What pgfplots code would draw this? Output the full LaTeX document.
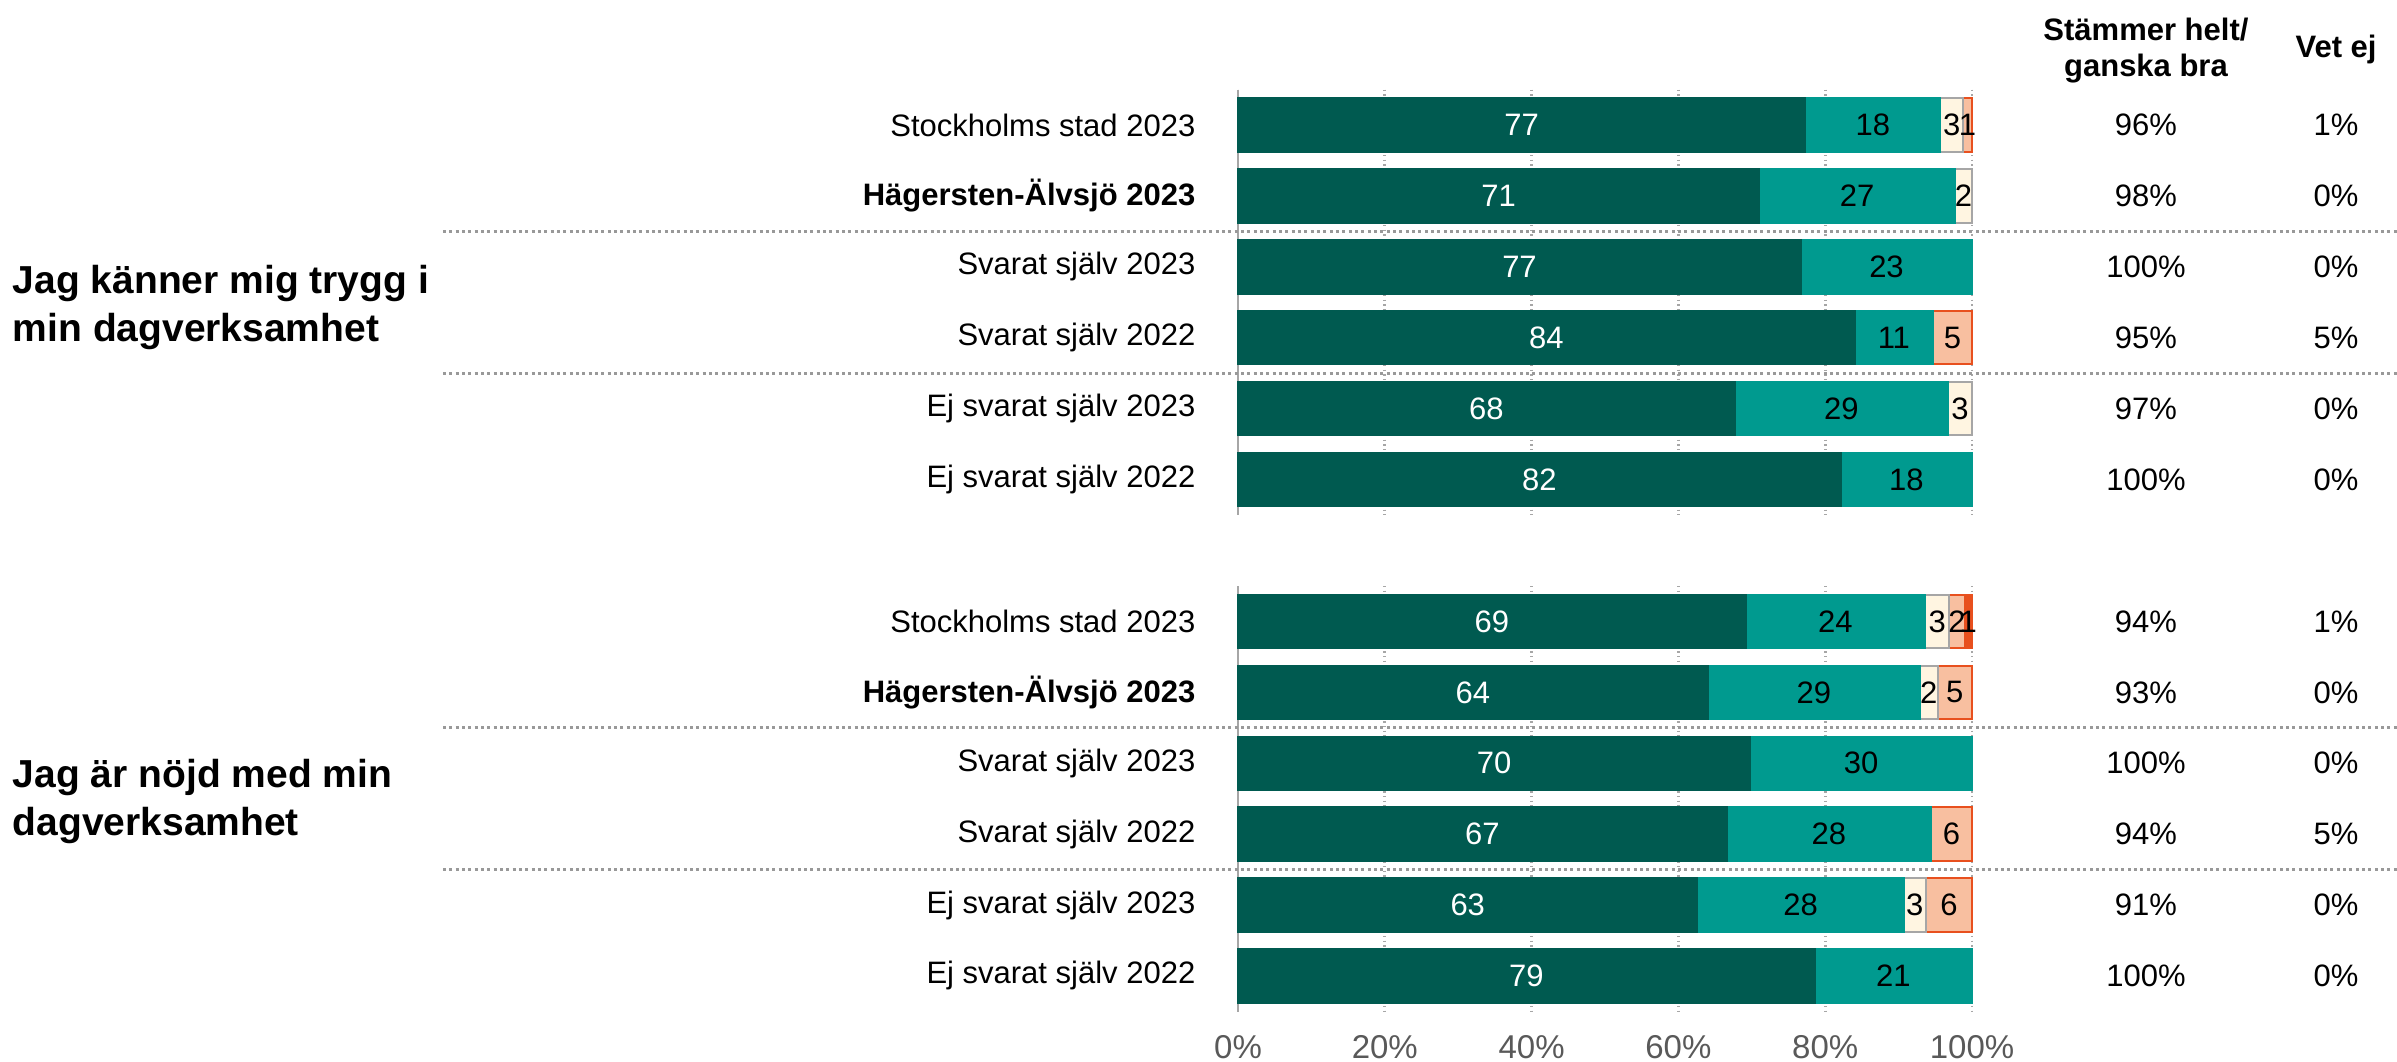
\documentclass[border=0pt]{standalone}
\usepackage{pgfplots}
\pgfplotsset{compat=1.18}
\usepackage{pgfplotstable}
\usepackage{fontspec}
\setmainfont{Liberation Sans}
\definecolor{dgreen}{HTML}{005A50}
\definecolor{teal2}{HTML}{009A8F}
\definecolor{cream}{HTML}{FFF5E1}
\definecolor{creamb}{HTML}{A6A6A6}
\definecolor{salmon}{HTML}{F8BFA0}
\definecolor{orng}{HTML}{E8501E}
\definecolor{tickgray}{HTML}{595959}
\newcommand\fs{\fontsize{9.3pt}{11pt}\selectfont}
% Jag känner mig trygg i min dagverksamhet
\pgfplotstableread{
y  a    b    c   d   e   la lb lc ld le s   v
0  77.3 18.4 3.1 1.2 0   77 18 3  1  0  96  1
1  71.0 26.7 2.3 0   0   71 27 2  0  0  98  0
2  76.7 23.3 0   0   0   77 23 0  0  0  100 0
3  84.0 10.7 0   5.3 0   84 11 0  5  0  95  5
4  67.7 29.0 3.3 0   0   68 29 3  0  0  97  0
5  82.1 17.9 0   0   0   82 18 0  0  0  100 0
}\dataA
% Jag är nöjd med min dagverksamhet
\pgfplotstableread{
y  a    b    c   d   e   la lb lc ld le s   v
7  69.2 24.4 3.3 2.1 1.0 69 24 3  2  1  94  1
8  64.0 28.9 2.4 4.7 0   64 29 2  5  0  93  0
9  69.8 30.2 0   0   0   70 30 0  0  0  100 0
10 66.6 27.8 0   5.6 0   67 28 0  6  0  94  5
11 62.6 28.1 3.0 6.3 0   63 28 3  6  0  91  0
12 78.6 21.4 0   0   0   79 21 0  0  0  100 0
}\dataB
\pgfplotsset{
  seg/.style 2 args={xbar, bar width=16pt, bar shift=0pt, fill=#1, draw=#2, line width=0.6pt},
  lbl/.style={draw=none, mark=none, point meta=explicit,
    nodes near coords={\pgfmathfloatifflags{\pgfplotspointmeta}{0}{}{\pgfmathprintnumber{\pgfplotspointmeta}}},
    every node near coord/.append style={anchor=center, font=\fs, inner sep=0pt, text=#1}},
  col/.style={draw=none, mark=none, point meta=explicit symbolic,
    nodes near coords={\pgfplotspointmeta\%},
    every node near coord/.append style={anchor=center, font=\fs, inner sep=0pt, text=black}},
  common/.style={
    anchor=south west,
    scale only axis, width=220.2pt, height=127.6pt,
    xmin=0, xmax=100, y dir=reverse,
    clip=false,
    axis lines*=left,
    x axis line style={draw=none},
    y axis line style={creamb, line width=0.7pt},
    major tick length=0pt,
    xtick={0,20,40,60,80,100},
    xticklabel style={font=\fontsize{9.9pt}{12pt}\selectfont, text=tickgray, anchor=north, inner sep=0pt, yshift=-7pt},
    yticklabel style={font=\fs, anchor=east, inner sep=0pt, xshift=-12.6pt},
    xmajorgrids, grid style={creamb, densely dotted, line width=0.8pt},
    /pgf/number format/assume math mode=true,
  }
}
\newcommand\bars[1]{%
\addplot[seg={orng}{orng}] table[x expr=\thisrow{a}+\thisrow{b}+\thisrow{c}+\thisrow{d}+\thisrow{e}, y=y]{#1};
\addplot[seg={salmon}{orng}] table[x expr=\thisrow{a}+\thisrow{b}+\thisrow{c}+\thisrow{d}, y=y]{#1};
\addplot[seg={cream}{creamb}] table[x expr=\thisrow{a}+\thisrow{b}+\thisrow{c}, y=y]{#1};
\addplot[seg={teal2}{teal2}] table[x expr=\thisrow{a}+\thisrow{b}, y=y]{#1};
\addplot[seg={dgreen}{dgreen}] table[x=a, y=y]{#1};
\addplot[lbl=white] table[x expr=\thisrow{a}/2, y=y, meta=la]{#1};
\addplot[lbl=black] table[x expr=\thisrow{a}+\thisrow{b}/2, y=y, meta=lb]{#1};
\addplot[lbl=black] table[x expr=\thisrow{a}+\thisrow{b}+\thisrow{c}/2, y=y, meta=lc]{#1};
\addplot[lbl=black] table[x expr=\thisrow{a}+\thisrow{b}+\thisrow{c}+\thisrow{d}/2, y=y, meta=ld]{#1};
\addplot[lbl=black] table[x expr=\thisrow{a}+\thisrow{b}+\thisrow{c}+\thisrow{d}+\thisrow{e}/2, y=y, meta=le]{#1};
\addplot[col] table[x expr=123.7, y=y, meta=s]{#1};
\addplot[col] table[x expr=149.6, y=y, meta=v]{#1};
}
\begin{document}
\begin{tikzpicture}
\begin{axis}[common,
  at={(371.4pt,-154.5pt)},
  ymin=-0.5, ymax=5.5,
  xticklabels={},
  ytick={0,1,2,3,4,5},
  yticklabels={Stockholms stad 2023,\textbf{Hägersten-Älvsjö 2023},Svarat själv 2023,Svarat själv 2022,Ej svarat själv 2023,Ej svarat själv 2022},
]
\bars{\dataA}
\node[align=center, font=\bfseries\fontsize{9.3pt}{11pt}\selectfont] at (axis cs:123.7,-1.05) {Stämmer helt/\\ganska bra};
\node[font=\bfseries\fontsize{9.3pt}{11pt}\selectfont] at (axis cs:149.6,-1.06) {Vet ej};
\node[anchor=west, align=left, inner sep=0pt, font=\bfseries\fontsize{11.7pt}{14.4pt}\selectfont] at (axis cs:-167,2.57) {Jag känner mig trygg i\\min dagverksamhet};
\draw[gray!80, densely dotted, line width=0.9pt] (axis cs:-108.3,1.5) -- (axis cs:158,1.5);
\draw[gray!80, densely dotted, line width=0.9pt] (axis cs:-108.3,3.5) -- (axis cs:158,3.5);
\end{axis}
\begin{axis}[common,
  at={(371.4pt,-303.4pt)},
  ymin=6.5, ymax=12.5,
  xticklabels={0\%,20\%,40\%,60\%,80\%,100\%},
  ytick={7,8,9,10,11,12},
  yticklabels={Stockholms stad 2023,\textbf{Hägersten-Älvsjö 2023},Svarat själv 2023,Svarat själv 2022,Ej svarat själv 2023,Ej svarat själv 2022},
]
\bars{\dataB}
\node[anchor=west, align=left, inner sep=0pt, font=\bfseries\fontsize{11.7pt}{14.4pt}\selectfont] at (axis cs:-167,9.54) {Jag är nöjd med min\\dagverksamhet};
\draw[gray!80, densely dotted, line width=0.9pt] (axis cs:-108.3,8.5) -- (axis cs:158,8.5);
\draw[gray!80, densely dotted, line width=0.9pt] (axis cs:-108.3,10.5) -- (axis cs:158,10.5);
\end{axis}
\pgfresetboundingbox
\useasboundingbox (0pt,0pt) rectangle (719.1pt,-318.3pt);
\end{tikzpicture}
\end{document}
